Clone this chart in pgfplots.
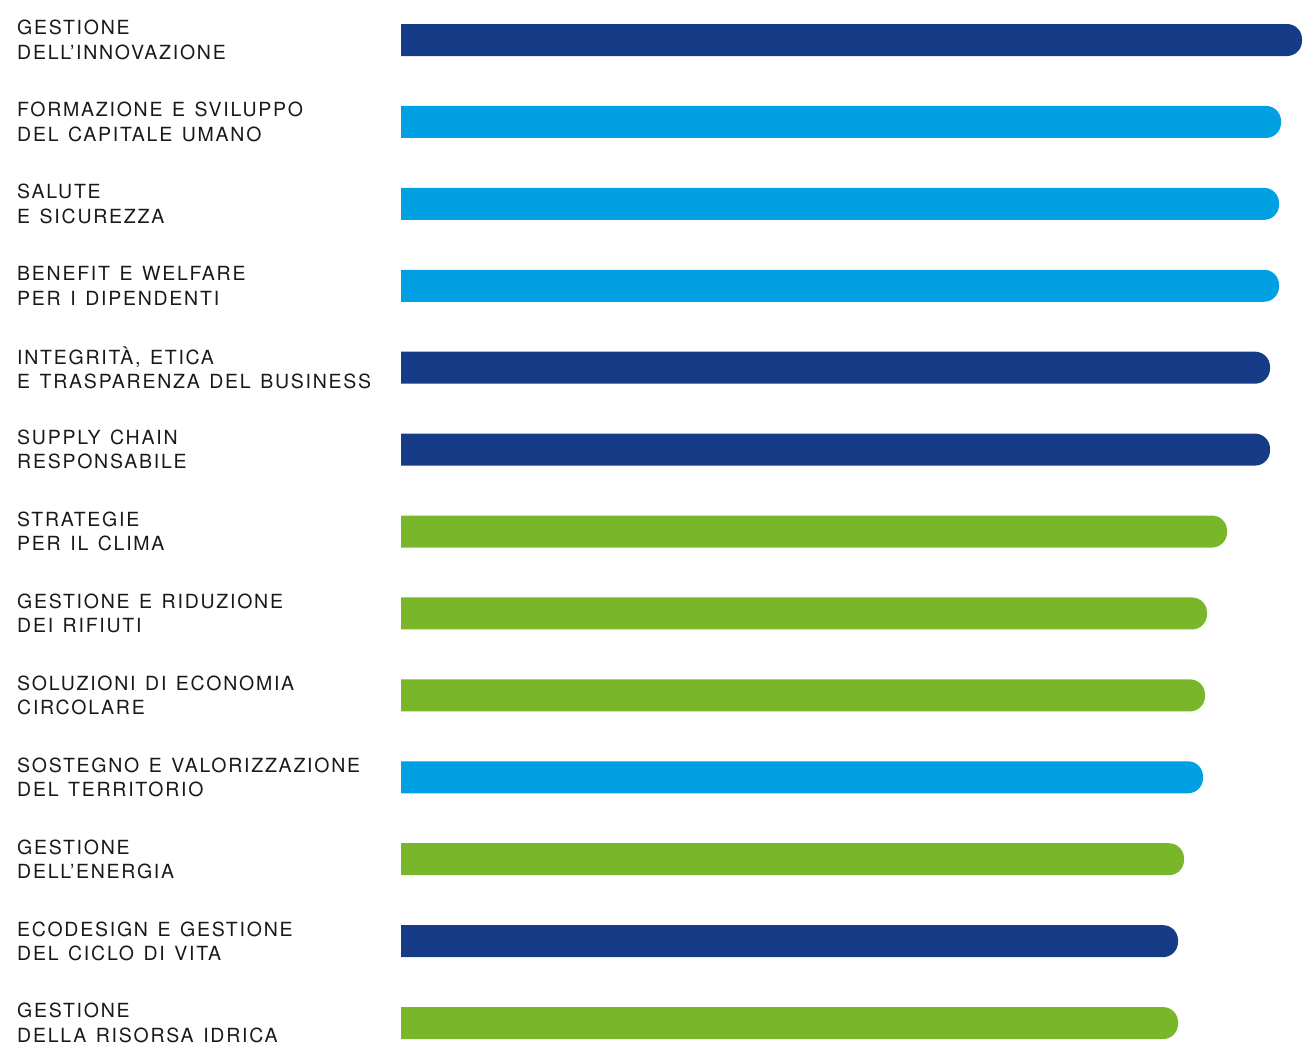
\documentclass[border=0pt]{standalone}
\usepackage{pgfplots}
\pgfplotsset{compat=1.18}
\usepackage{fontspec}
\setmainfont{TeX Gyre Heros}[LetterSpace=9, WordSpace=1.33]
\definecolor{darkblue}{RGB}{22,60,136}
\definecolor{lightblue}{RGB}{0,160,227}
\definecolor{leafgreen}{RGB}{122,182,42}
\begin{document}
\begin{tikzpicture}
% the strip 0pt..16pt holds the rounded left ends of the bars: clip it away
\begin{scope}
\clip (-385pt,0pt) rectangle (-3pt,1046pt) (16pt,0pt) rectangle (918pt,1046pt);
\begin{axis}[
  at={(0pt,0pt)}, anchor=south west,
  scale only axis,
  width=918pt, height=1046pt,
  xmin=0, xmax=918,
  ymin=-0.4883, ymax=12.28,
  y dir=reverse,
  xbar, bar width=32pt, bar shift=0pt,
  xtick=\empty,
  ytick={0,...,12},
  yticklabels={
    {GESTIONE\\DELL’INNOVAZIONE},
    {FORMAZIONE E SVILUPPO\\DEL CAPITALE UMANO},
    {SALUTE\\E SICUREZZA},
    {BENEFIT E WELFARE\\PER I DIPENDENTI},
    {INTEGRITÀ, ETICA\\E TRASPARENZA DEL BUSINESS},
    {SUPPLY CHAIN\\RESPONSABILE},
    {STRATEGIE\\PER IL CLIMA},
    {GESTIONE E RIDUZIONE\\DEI RIFIUTI},
    {SOLUZIONI DI ECONOMIA\\CIRCOLARE},
    {SOSTEGNO E VALORIZZAZIONE\\DEL TERRITORIO},
    {GESTIONE\\DELL’ENERGIA},
    {ECODESIGN E GESTIONE\\DEL CICLO DI VITA},
    {GESTIONE\\DELLA RISORSA IDRICA}},
  yticklabel style={anchor=west, align=left, inner sep=0pt, xshift=-368pt,
    font=\fontsize{19.5}{24.5}\selectfont, text=black!90},
  axis line style={draw=none},
  major tick length=0pt,
  every axis plot/.append style={draw=none, rounded corners=15pt, bar shift=0pt},
]
% blu scuro
\addplot[fill=darkblue] coordinates {(917,0) (885,4) (885,5) (793,11)};
% azzurro
\addplot[fill=lightblue] coordinates {(896,1) (894,2) (894,3) (818,9)};
% verde
\addplot[fill=leafgreen] coordinates {(842,6) (822,7) (820,8) (799,10) (793,12)};
\end{axis}
\end{scope}
\pgfresetboundingbox
\path[use as bounding box] (-385pt,0pt) rectangle (918pt,1046pt);
\end{tikzpicture}
\end{document}
